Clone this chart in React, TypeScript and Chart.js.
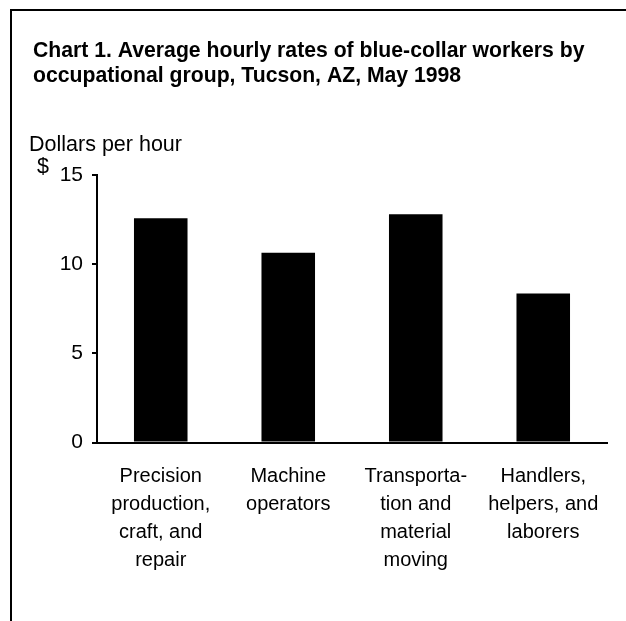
import React, { useEffect, useRef } from 'react';
import { Chart, registerables } from 'chart.js';

Chart.register(...registerables);

const categories: string[][] = [
  ['Precision', 'production,', 'craft, and', 'repair'],
  ['Machine', 'operators'],
  ['Transporta-', 'tion and', 'material', 'moving'],
  ['Handlers,', 'helpers, and', 'laborers'],
];
const hourlyRates: number[] = [12.57, 10.64, 12.8, 8.35];
const yTickValues: number[] = [0, 5, 10, 15];
const titleLines: string[] = [
  'Chart 1. Average hourly rates of blue-collar workers by',
  'occupational group, Tucson, AZ, May 1998',
];
const yAxisLabel = 'Dollars per hour';
const unitLabel = '$';

const FONT = '"Liberation Sans", Arial, Helvetica, sans-serif';
const W = 626;
const H = 621;

const overlayPlugin = {
  id: 'overlay',
  beforeDraw(chart: any) {
    const ctx = chart.ctx as CanvasRenderingContext2D;
    ctx.save();
    ctx.fillStyle = '#ffffff';
    ctx.fillRect(0, 0, chart.width, chart.height);
    ctx.fillStyle = '#000000';
    // frame (top and left edges)
    ctx.fillRect(10, 9, chart.width - 10, 2);
    ctx.fillRect(10, 9, 2, chart.height - 9);
    ctx.textAlign = 'left';
    ctx.textBaseline = 'alphabetic';
    ctx.font = `bold 21.2px ${FONT}`;
    ctx.fillText(titleLines[0], 33, 57);
    ctx.fillText(titleLines[1], 33, 82);
    ctx.font = `21.5px ${FONT}`;
    ctx.fillText(yAxisLabel, 29, 151);
    ctx.fillText(unitLabel, 37, 173);
    ctx.restore();
  },
};

export default function App() {
  const canvasRef = useRef<HTMLCanvasElement | null>(null);

  useEffect(() => {
    const canvas = canvasRef.current;
    if (!canvas) return;
    const chart = new Chart(canvas, {
      type: 'bar',
      data: {
        labels: categories,
        datasets: [
          {
            data: hourlyRates,
            backgroundColor: '#000000',
            borderWidth: 0,
            barPercentage: 0.42,
            categoryPercentage: 1,
          },
        ],
      },
      options: {
        responsive: false,
        animation: false,
        devicePixelRatio: 1,
        layout: { padding: { top: 175, left: 0, right: 19, bottom: 38.5 } },
        plugins: {
          legend: { display: false },
          title: { display: false },
          tooltip: { enabled: false },
        },
        scales: {
          x: {
            grid: { display: false },
            border: { display: true, color: '#000000', width: 2 },
            ticks: {
              color: '#000000',
              padding: 11.5,
              maxRotation: 0,
              autoSkip: false,
              font: { family: FONT, size: 20, lineHeight: 1.4 },
            },
            afterFit: (scale: any) => {
              scale.height = 140;
            },
          },
          y: {
            min: 0,
            max: 15,
            afterBuildTicks: (scale: any) => {
              scale.ticks = yTickValues.map((v) => ({ value: v }));
            },
            grid: {
              display: true,
              drawOnChartArea: false,
              drawTicks: true,
              tickLength: 5,
              color: '#000000',
              lineWidth: 2,
            },
            border: { display: true, color: '#000000', width: 2 },
            ticks: {
              color: '#000000',
              padding: 9,
              font: { family: FONT, size: 21 },
            },
            afterFit: (scale: any) => {
              scale.width = 97;
            },
          },
        },
      },
      plugins: [overlayPlugin],
    });
    return () => chart.destroy();
  }, []);

  return (
    <div style={{ position: 'absolute', left: 0, top: 0, width: W, height: H, background: '#fff' }}>
      <canvas ref={canvasRef} width={W} height={H} style={{ display: 'block', width: W, height: H }} />
    </div>
  );
}
